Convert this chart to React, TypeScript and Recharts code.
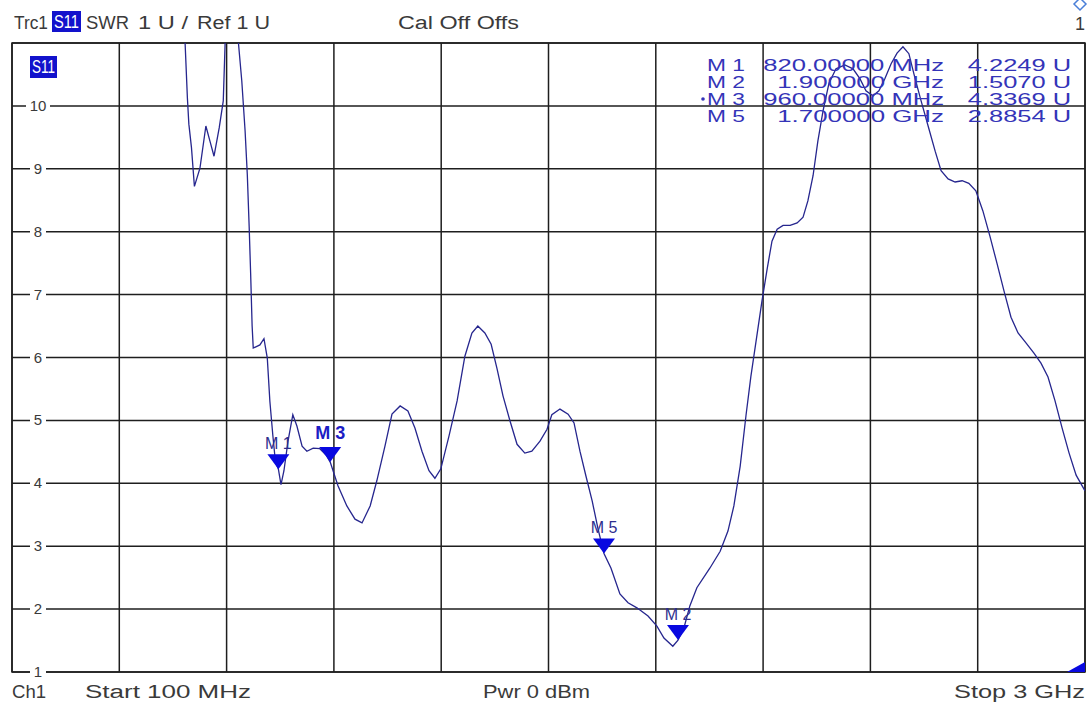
import {
  ComposedChart,
  Line,
  ReferenceArea,
  ReferenceDot,
  ReferenceLine,
  Scatter,
  XAxis,
  YAxis,
} from "recharts";

// trace S11 SWR (MHz / SWR units)
const FREQ_MHZ = [
  565, 574, 578, 585, 593, 608, 624, 635, 646, 660,
  671, 676, 692, 712, 721, 730, 736, 741, 745, 749,
  752, 770, 781, 790, 797, 805, 812, 820, 827, 835,
  846, 859, 870, 884, 897, 914, 932, 949, 960, 981,
  1005, 1027, 1046, 1068, 1086, 1108, 1127, 1149, 1170, 1189,
  1208, 1227, 1243, 1259, 1281, 1303, 1324, 1343, 1359, 1378,
  1395, 1411, 1427, 1446, 1465, 1486, 1505, 1527, 1546, 1559,
  1581, 1603, 1619, 1635, 1651, 1668, 1684, 1700, 1719, 1743,
  1765, 1789, 1819, 1843, 1862, 1886, 1900, 1916, 1932, 1951,
  1986, 2014, 2035, 2051, 2068, 2084, 2097, 2111, 2127, 2141,
  2154, 2168, 2184, 2203, 2222, 2238, 2251, 2265, 2278, 2292,
  2308, 2327, 2351, 2373, 2392, 2408, 2427, 2443, 2459, 2476,
  2492, 2508, 2524, 2541, 2557, 2576, 2595, 2611, 2630, 2649,
  2668, 2686, 2705, 2724, 2743, 2762, 2781, 2800, 2819, 2841,
  2862, 2881, 2900, 2919, 2938, 2957, 2976, 3000,
];

const SWR = [
  11.4, 10.13, 9.71, 9.34, 8.72, 9.01, 9.68, 9.44, 9.2, 9.65,
  10.08, 11.0, 11.5, 11.0, 10.4, 9.6, 8.9, 8.08, 7.33, 6.5,
  6.15, 6.2, 6.3, 5.99, 5.3, 4.76, 4.34, 4.2249, 3.98, 4.2,
  4.67, 5.09, 4.91, 4.59, 4.51, 4.56, 4.55, 4.45, 4.3369, 3.96,
  3.64, 3.43, 3.37, 3.64, 4.04, 4.59, 5.1, 5.23, 5.15, 4.88,
  4.51, 4.2, 4.08, 4.23, 4.75, 5.31, 6.02, 6.39, 6.5, 6.39,
  6.21, 5.82, 5.39, 4.99, 4.62, 4.48, 4.51, 4.67, 4.86, 5.09,
  5.18, 5.1, 4.96, 4.51, 4.12, 3.72, 3.27, 2.8854, 2.65, 2.24,
  2.1, 2.02, 1.89, 1.73, 1.54, 1.41, 1.507, 1.7, 2.05, 2.34,
  2.65, 2.92, 3.24, 3.64, 4.27, 5.09, 5.7, 6.26, 6.9, 7.41,
  7.85, 8.04, 8.1, 8.1, 8.14, 8.23, 8.49, 8.89, 9.44, 9.92,
  10.36, 10.59, 10.65, 10.59, 10.43, 10.24, 10.16, 10.24, 10.43, 10.67,
  10.84, 10.94, 10.83, 10.43, 10.08, 9.68, 9.28, 8.97, 8.84, 8.79,
  8.81, 8.77, 8.65, 8.33, 7.93, 7.5, 7.06, 6.64, 6.39, 6.23,
  6.07, 5.91, 5.69, 5.31, 4.88, 4.48, 4.13, 3.88,
];

const MARKER_NAMES = ["M 1", "M 3", "M 5", "M 2"];
const MARKER_FREQ = [820, 960, 1700, 1900];
const MARKER_SWR = [4.2249, 4.3369, 2.8854, 1.507];
const ACTIVE_MARKER = "M 3";

const TABLE_NAMES = ["M 1", "M 2", "M 3", "M 5"];
const TABLE_FREQ = ["820.00000 MHz", "1.900000 GHz", "960.00000 MHz", "1.700000 GHz"];
const TABLE_VALUE = ["4.2249 U", "1.5070 U", "4.3369 U", "2.8854 U"];

const X_TICKS = [100, 390, 680, 970, 1260, 1550, 1840, 2130, 2420, 2710, 3000];
const Y_TICKS = [1, 2, 3, 4, 5, 6, 7, 8, 9, 10, 11];
const Y_LABELS = [1, 2, 3, 4, 5, 6, 7, 8, 9, 10];

const FONT = '"Liberation Sans", Arial, sans-serif';
const GRID = "#1e1e1e";
const TRACE = "#26268e";
const MARKER_BLUE = "#0808e0";
const TABLE_BLUE = "#3434b8";
const TEXT = "#3a3a3a";

const traceData = FREQ_MHZ.map((f, i) => ({ f, swr: SWR[i] }));
const markerData = MARKER_NAMES.map((name, i) => ({
  f: MARKER_FREQ[i],
  swr: MARKER_SWR[i],
  name,
}));

// "-- 10 --" label sitting on a grid line, white gap behind the text
function GridLabel(props: any) {
  const { cx, cy, v } = props;
  const x = cx + 26;
  const label = String(v);
  const w = label.length > 1 ? 24 : 16;
  return (
    <g>
      <rect x={x - w / 2} y={cy - 3} width={w} height={6} fill="#fff" />
      <text x={x} y={cy + 5} textAnchor="middle" fontFamily={FONT} fontSize={15} fill={TEXT}>
        {label}
      </text>
    </g>
  );
}

function MarkerShape(props: any) {
  const { cx, cy, payload } = props;
  const active = payload.name === ACTIVE_MARKER;
  return (
    <g>
      <polygon points={`${cx},${cy} ${cx - 11},${cy - 15} ${cx + 11},${cy - 15}`} fill={MARKER_BLUE} />
      <text
        x={cx}
        y={cy - (active ? 23 : 20)}
        textAnchor="middle"
        fontFamily={FONT}
        fontSize={active ? 18 : 16}
        fontWeight={active ? 700 : 400}
        fill={active ? "#1c1cc4" : "#2e2e8e"}
      >
        {payload.name}
      </text>
    </g>
  );
}

function CornerFlag(props: any) {
  const { cx, cy } = props;
  return <polygon points={`${cx},${cy - 10} ${cx},${cy} ${cx - 18},${cy}`} fill={MARKER_BLUE} />;
}

function ScreenText() {
  const t = { fontFamily: FONT, fontSize: 18, fill: TEXT, lengthAdjust: "spacingAndGlyphs" };
  const m = { fontFamily: FONT, fontSize: 17, fill: TABLE_BLUE, lengthAdjust: "spacingAndGlyphs" };
  const rowY = (i: number) => 71 + i * 17;
  return (
    <svg width={1090} height={706} style={{ position: "absolute", left: 0, top: 0, pointerEvents: "none" }}>
      <text x={14} y={29} {...t} textLength={34}>Trc1</text>
      <rect x={52} y={11} width={29} height={21} fill="#1212cc" />
      <text x={54} y={28} {...t} fill="#fff" textLength={25}>S11</text>
      <text x={86} y={29} {...t} textLength={43}>SWR</text>
      <text x={138} y={29} {...t} textLength={50}>1 U /</text>
      <text x={197} y={29} {...t} textLength={73}>Ref 1 U</text>
      <text x={398} y={29} {...t} textLength={121}>Cal Off Offs</text>
      <polygon points="1080,-2 1086,4 1080,10 1074,4" fill="#fff" stroke="#4a7fd8" strokeWidth={1.5} />
      <text x={1085} y={30} {...t} textAnchor="end">1</text>

      <rect x={30} y={56} width={27} height={22} fill="#1212cc" />
      <text x={32} y={73} {...t} fill="#fff" textLength={23}>S11</text>

      {TABLE_NAMES.map((n, i) => (
        <g key={n}>
          {n === ACTIVE_MARKER && <circle cx={703} cy={rowY(i) - 6} r={1.8} fill={TABLE_BLUE} />}
          <text x={745} y={rowY(i)} {...m} textAnchor="end" textLength={38}>{n}</text>
          <text x={944} y={rowY(i)} {...m} textAnchor="end"
            textLength={TABLE_FREQ[i].length * 13.9}>{TABLE_FREQ[i]}</text>
          <text x={1071} y={rowY(i)} {...m} textAnchor="end"
            textLength={TABLE_VALUE[i].length * 12.9}>{TABLE_VALUE[i]}</text>
        </g>
      ))}

      <text x={12} y={698} {...t} textLength={34}>Ch1</text>
      <text x={85} y={698} {...t} textLength={166}>Start  100 MHz</text>
      <text x={483} y={698} {...t} textLength={107}>Pwr  0 dBm</text>
      <text x={954} y={698} {...t} textLength={131}>Stop  3 GHz</text>
    </svg>
  );
}

export default function App() {
  return (
    <div style={{ position: "absolute", left: 0, top: 0, width: 1090, height: 706, background: "#fff" }}>
      <ComposedChart
        width={1090}
        height={706}
        data={traceData}
        margin={{ top: 43, right: 5, bottom: 34, left: 12 }}
      >
        <XAxis
          dataKey="f"
          type="number"
          domain={[100, 3000]}
          ticks={X_TICKS}
          allowDataOverflow
          height={0}
          tick={false}
          tickLine={false}
          axisLine={false}
        />
        <YAxis
          type="number"
          domain={[1, 11]}
          ticks={Y_TICKS}
          allowDataOverflow
          width={0}
          tick={false}
          tickLine={false}
          axisLine={false}
        />
        {X_TICKS.map((v) => (
          <ReferenceLine key={`x${v}`} x={v} stroke={GRID} strokeWidth={1.5} ifOverflow="visible" />
        ))}
        {Y_TICKS.map((v) => (
          <ReferenceLine key={`y${v}`} y={v} stroke={GRID} strokeWidth={1.5} ifOverflow="visible" />
        ))}
        {Y_LABELS.map((v) => (
          <ReferenceDot key={`l${v}`} x={100} y={v} r={0} ifOverflow="visible" shape={<GridLabel v={v} />} />
        ))}
        <ReferenceArea x1={100} x2={3000} y1={1} y2={11} fill="none" stroke={GRID} strokeWidth={1.5} ifOverflow="visible" />
        <Line
          dataKey="swr"
          stroke={TRACE}
          strokeWidth={1.3}
          dot={false}
          activeDot={false}
          type="linear"
          isAnimationActive={false}
        />
        <Scatter data={markerData} dataKey="swr" shape={<MarkerShape />} isAnimationActive={false} />
        <ReferenceDot x={3000} y={1} r={0} shape={<CornerFlag />} ifOverflow="visible" />
      </ComposedChart>
      <ScreenText />
    </div>
  );
}
